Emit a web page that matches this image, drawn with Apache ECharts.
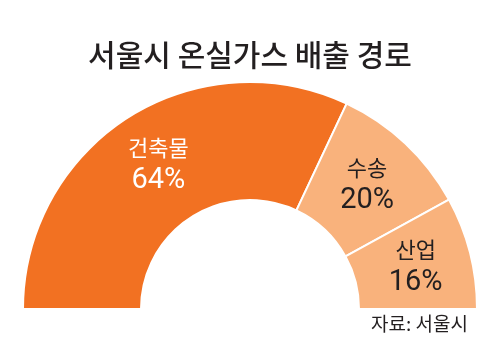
<!DOCTYPE html>
<html>
<head>
<meta charset="utf-8">
<script src="https://cdn.jsdelivr.net/npm/echarts@6/dist/echarts.min.js"></script>
<style>
  html, body { margin: 0; padding: 0; background: #fff; }
  #chart { width: 500px; height: 351px; }
</style>
</head>
<body>
<div id="chart"></div>
<script>
const categories = ['건축물', '수송', '산업'];
const shares = [64, 20, 16];
const sliceColors = ['#F27122', '#F9B27C', '#F9B27C'];
const nameColors = ['#ffffff', '#231f20', '#231f20'];

const chart = echarts.init(document.getElementById('chart'));

const numFont = 'Roboto, "Liberation Sans", sans-serif';
const krFont = '"Noto Sans CJK KR", sans-serif';

const total = shares.reduce((a, b) => a + b, 0);

const seriesData = categories.map((name, i) => ({
  name: name,
  value: shares[i],
  itemStyle: { color: sliceColors[i] },
  label: {
    rich: {
      n: { fontFamily: krFont, fontSize: 22, color: nameColors[i], lineHeight: 32 },
      v: { fontFamily: numFont, fontSize: 29, color: nameColors[i], lineHeight: 34 }
    }
  }
}));
// invisible lower half
seriesData.push({
  name: '',
  value: total,
  itemStyle: { color: 'rgba(0,0,0,0)', borderWidth: 0 },
  label: { show: false },
  emphasis: { disabled: true },
  tooltip: { show: false }
});

const option = {
  animation: false,
  title: {
    text: '서울시 온실가스 배출 경로',
    left: 'center',
    top: 35,
    textStyle: { fontFamily: krFont, fontSize: 30, fontWeight: 500, color: '#231f20' }
  },
  graphic: [{
    type: 'text',
    right: 32,
    top: 314,
    style: { text: '자료: 서울시', font: '19px "Noto Sans CJK KR", sans-serif', fill: '#231f20' }
  }],
  series: [{
    type: 'pie',
    center: [250, 309],
    radius: [109, 227],
    startAngle: 180,
    clockwise: true,
    silent: true,
    itemStyle: { borderColor: '#ffffff', borderWidth: 2 },
    label: {
      show: true,
      position: 'inside',
      formatter: p => '{n|' + p.name + '}\n{v|' + p.value + '%}'
    },
    labelLine: { show: false },
    data: seriesData
  }]
};

chart.setOption(option);
</script>
</body>
</html>
